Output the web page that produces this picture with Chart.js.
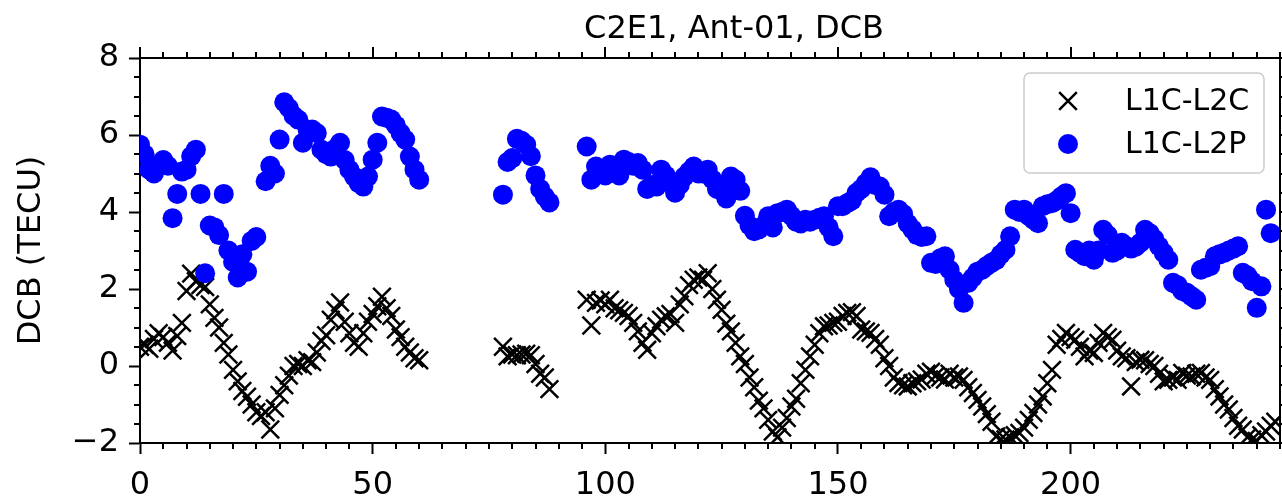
<!DOCTYPE html>
<html>
<head>
<meta charset="utf-8">
<script src="https://cdn.jsdelivr.net/npm/chart.js@4.4.1/dist/chart.umd.min.js"></script>
<style>
  html, body { margin: 0; padding: 0; background: #fff; }
  #wrap { width: 1282px; height: 498px; }
</style>
</head>
<body>
<div id="wrap"><canvas id="dcbChart" width="1282" height="498"></canvas></div>
<script>
// values (one sample per epoch)
const titleText = 'C2E1, Ant-01, DCB';
const seriesNames = ['L1C-L2C', 'L1C-L2P'];
const segStart = [0, 78, 96]; // first epoch of each arc

const l2cA = [0.50, 0.55, 0.45, 0.70, 0.85, 0.75, 0.60, 0.40, 0.78, 1.12,
  1.95, 2.40, 2.20, 2.10, 2.05, 1.60, 1.25, 1.00, 0.60, 0.30,
  -0.10, -0.40, -0.65, -0.80, -1.00, -1.20, -1.30, -1.20, -1.65, -1.10,
  -0.75, -0.50, -0.25, 0.00, 0.05, 0.00, 0.15, 0.10, 0.35, 0.65,
  0.80, 1.20, 1.45, 1.65, 1.15, 0.85, 0.60, 0.50, 0.85, 1.15,
  1.35, 1.55, 1.80, 1.50, 1.30, 0.95, 0.75, 0.50, 0.35, 0.20, 0.15];
const l2pA = [5.75, 5.50, 5.10, 5.00, 5.20, 5.35, 5.20, 3.84, 4.47, 5.05,
  5.10, 5.45, 5.62, 4.47, 2.41, 3.65, 3.60, 3.40, 4.47, 3.00,
  2.70, 2.30, 2.90, 2.45, 3.25, 3.35, null, 4.80, 5.20, 5.00,
  5.88, 6.85, 6.70, 6.50, 6.40, 5.80, 6.14, 6.14, 6.05, 5.62,
  5.50, 5.44, 5.65, 5.80, 5.35, 5.10, 4.92, 4.75, 4.66, 4.92,
  5.36, 5.80, 6.48, 6.45, 6.40, 6.25, 6.05, 5.88, 5.44, 5.10, 4.84];

const l2cB = [0.50, 0.25, 0.30, 0.28, 0.30, 0.32, 0.28, 0.05, -0.20, -0.30, -0.60];
const l2pB = [4.45, 5.30, 5.40, 5.90, 5.85, 5.75, 5.45, 4.95, 4.60, 4.40, 4.25];

const l2cC = [1.72, 1.05, 1.64, 1.70, 1.60, 1.72, 1.50, 1.45, 1.38, 1.30,
  1.12, 0.90, 0.60, 0.42, 0.85, 1.03, 1.20, 1.29, 1.35, 1.12,
  1.60, 1.81, 2.10, 2.24, 2.30, 2.24, 2.41, 2.00, 1.72, 1.46,
  1.10, 0.90, 0.60, 0.25, 0.05, -0.30, -0.55, -0.90, -1.10, -1.40,
  -1.70, -1.85, -1.60, -1.35, -1.05, -0.85, -0.45, -0.10, 0.25, 0.55,
  0.85, 1.03, 1.05, 1.12, 1.15, 1.30, 1.38, 1.40, 1.30, 0.95,
  0.90, 0.86, 0.70, 0.55, 0.20, 0.00, -0.30, -0.44, -0.50, -0.53,
  -0.45, -0.40, -0.35, -0.20, -0.15, -0.25, -0.30, -0.35, -0.20, -0.30,
  -0.27, -0.36, -0.55, -0.70, -0.88, -1.05, -1.25, -1.45, -1.83, -1.90,
  -1.91, -1.85, -1.80, -1.74, -1.60, -1.40, -1.22, -1.00, -0.79, -0.45,
  -0.10, 0.55, 0.70, 0.86, 0.75, 0.68, 0.50, 0.25, 0.40, 0.34,
  0.60, 0.86, 0.75, 0.68, 0.40, 0.25, 0.20, -0.53, 0.10, 0.16,
  0.15, 0.05, 0.00, -0.20, -0.40, -0.36, -0.30, -0.36, -0.18, -0.25,
  -0.27, -0.20, -0.18, -0.30, -0.36, -0.60, -0.79, -1.00, -1.13, -1.35,
  -1.55, -1.65, -1.85, -1.91, -1.95, -1.80, -1.70, -1.55, -1.45];
const l2pC = [5.70, 4.84, 5.18, 5.10, 4.95, 5.23, 5.10, 4.95, 5.36, 5.30,
  5.20, 5.27, 5.10, 4.60, 4.70, 4.66, 5.10, 4.95, 4.75, 4.50,
  4.70, 4.92, 5.05, 5.18, 5.00, 5.00, 5.10, 4.85, 4.60, 4.55,
  4.35, 4.92, 4.84, 4.55, 3.90, 3.65, 3.50, 3.55, 3.65, 3.89,
  3.60, 3.97, 4.00, 4.06, 3.90, 3.75, 3.70, 3.80, 3.75, 3.80,
  3.85, 3.89, 3.60, 3.37, 4.15, 4.15, 4.23, 4.30, 4.50, 4.60,
  4.75, 4.90, 4.70, 4.66, 4.45, 3.89, 4.00, 4.06, 3.95, 3.70,
  3.55, 3.40, 3.35, 3.37, 2.68, 2.65, 2.80, 2.85, 2.50, 2.24,
  2.00, 1.64, 2.16, 2.30, 2.45, 2.50, 2.60, 2.68, 2.75, 2.90,
  3.02, 3.37, 4.06, 4.00, 4.06, 3.90, 3.80, 3.71, 4.15, 4.20,
  4.23, 4.30, 4.40, 4.49, 3.97, 3.02, 2.94, 2.85, 3.00, 2.76,
  3.00, 3.54, 3.40, 2.94, 3.00, 3.20, 3.11, 3.05, 3.10, 3.20,
  3.54, 3.45, 3.30, 3.11, 2.94, 2.76, 2.16, 2.10, 1.95, 1.90,
  1.81, 1.72, 2.50, 2.55, 2.59, 2.85, 2.90, 2.94, 3.00, 3.05,
  3.11, 2.42, 2.35, 2.20, 1.51, 2.07, 4.06, 3.45, null];

const xTicks = [0, 50, 100, 150, 200];
const yTicks = [-2, 0, 2, 4, 6, 8];
const xRange = [0, 245];
const yRange = [-2, 8];
const xMinorStep = 5;
const yMinorStep = 0.5;

const FONT = 'DejaVu Sans';

// turn the arcs into {x, y} points, dropping missing epochs
const toPoints = (arcs) => arcs.flatMap((ys, s) =>
  ys.map((y, i) => ({ x: segStart[s] + i, y: y })).filter(p => p.y !== null));

// title above the axes (sits a little right of centre in the original)
const plotTitle = {
  id: 'plotTitle',
  afterDraw(chart) {
    const { ctx, chartArea: a } = chart;
    ctx.save();
    ctx.fillStyle = '#000';
    ctx.font = '32px "' + FONT + '"';
    ctx.textAlign = 'center';
    ctx.textBaseline = 'middle';
    ctx.fillText(titleText, (a.left + a.right) / 2 + 24, 30);
    ctx.restore();
  }
};

// top/right spines plus minor and mirrored ticks (matplotlib style)
const frameTicks = {
  id: 'frameTicks',
  afterDraw(chart) {
    const { ctx, chartArea: a, scales: { x, y } } = chart;
    ctx.save();
    ctx.strokeStyle = '#000';
    ctx.lineWidth = 2;
    ctx.beginPath();
    ctx.moveTo(a.left - 1, a.top);
    ctx.lineTo(a.right, a.top);
    ctx.lineTo(a.right, a.bottom + 1);
    for (let v = xRange[0]; v <= xRange[1]; v += xMinorStep) {
      const px = Math.round(x.getPixelForValue(v));
      const major = xTicks.includes(v);
      const len = major ? 11 : 6;
      ctx.moveTo(px, a.top);
      ctx.lineTo(px, a.top - len);
      if (!major) {
        ctx.moveTo(px, a.bottom);
        ctx.lineTo(px, a.bottom + len);
      }
    }
    for (let v = yRange[0]; v <= yRange[1]; v += yMinorStep) {
      const py = Math.round(y.getPixelForValue(v));
      const major = yTicks.includes(v);
      const len = major ? 11 : 6;
      ctx.moveTo(a.right, py);
      ctx.lineTo(a.right + len, py);
      if (!major) {
        ctx.moveTo(a.left, py);
        ctx.lineTo(a.left - len, py);
      }
    }
    ctx.stroke();
    ctx.restore();
  }
};

// framed legend inside the upper right corner
const boxLegend = {
  id: 'boxLegend',
  afterDraw(chart) {
    const { ctx, chartArea: a } = chart;
    const bw = 240, bh = 100;
    const bx = a.right - 16 - bw, by = a.top + 15;
    ctx.save();
    ctx.fillStyle = 'rgba(255,255,255,0.8)';
    ctx.strokeStyle = '#cccccc';
    ctx.lineWidth = 1.5;
    ctx.beginPath();
    ctx.roundRect(bx, by, bw, bh, 6);
    ctx.fill();
    ctx.stroke();

    const rows = [1, 0]; // dataset index for each legend row
    rows.forEach((di, k) => {
      const ds = chart.data.datasets[di];
      const cy = by + 28 + k * 43;
      const cx = bx + 44;
      ctx.fillStyle = ds.backgroundColor;
      ctx.strokeStyle = ds.borderColor;
      ctx.lineWidth = ds.borderWidth;
      Chart.helpers.drawPoint(ctx, {
        pointStyle: ds.pointStyle,
        radius: ds.pointRadius,
        rotation: 0,
        borderWidth: ds.borderWidth
      }, cx, cy);
      ctx.fillStyle = '#000';
      ctx.font = '30px "' + FONT + '"';
      ctx.textAlign = 'left';
      ctx.textBaseline = 'middle';
      ctx.fillText(ds.label, bx + 101, cy + 1);
    });
    ctx.restore();
  }
};

const ctx = document.getElementById('dcbChart').getContext('2d');
new Chart(ctx, {
  type: 'scatter',
  data: {
    datasets: [
      {
        label: seriesNames[1],
        data: toPoints([l2pA, l2pB, l2pC]),
        pointStyle: 'circle',
        pointRadius: 10,
        backgroundColor: '#0000ff',
        borderColor: '#0000ff',
        borderWidth: 0,
        clip: 0,
        order: 0
      },
      {
        label: seriesNames[0],
        data: toPoints([l2cA, l2cB, l2cC]),
        pointStyle: 'crossRot',
        pointRadius: 12.5,
        backgroundColor: '#000000',
        borderColor: '#000000',
        borderWidth: 2.5,
        clip: 0,
        order: 1
      }
    ]
  },
  options: {
    responsive: false,
    animation: false,
    devicePixelRatio: 1,
    events: [],
    layout: { autoPadding: false, padding: { top: 58, right: 2, left: 0, bottom: 0 } },
    plugins: {
      legend: { display: false },
      tooltip: { enabled: false },
      title: { display: false }
    },
    scales: {
      x: {
        type: 'linear',
        min: xRange[0],
        max: xRange[1],
        afterBuildTicks: (s) => { s.ticks = xTicks.map(v => ({ value: v })); },
        afterFit: (s) => { s.height = 55; s.paddingLeft = 0; s.paddingRight = 0; },
        ticks: {
          color: '#000',
          font: { family: FONT, size: 32 },
          padding: 12,
          maxRotation: 0
        },
        grid: {
          drawOnChartArea: false,
          drawTicks: true,
          tickLength: 11,
          tickWidth: 2,
          tickColor: '#000'
        },
        border: { display: true, color: '#000', width: 2 }
      },
      y: {
        type: 'linear',
        min: yRange[0],
        max: yRange[1],
        afterBuildTicks: (s) => { s.ticks = yTicks.map(v => ({ value: v })); },
        afterFit: (s) => { s.width = 140; s.paddingTop = 0; s.paddingBottom = 0; },
        ticks: {
          color: '#000',
          font: { family: FONT, size: 32 },
          padding: 10,
          callback: (v) => v < 0 ? '\u2212' + Math.abs(v) : String(v)
        },
        grid: {
          drawOnChartArea: false,
          drawTicks: true,
          tickLength: 11,
          tickWidth: 2,
          tickColor: '#000'
        },
        border: { display: true, color: '#000', width: 2 },
        title: {
          display: true,
          text: 'DCB (TECU)',
          color: '#000',
          font: { family: FONT, size: 32 },
          padding: { top: 12, bottom: 0 }
        }
      }
    }
  },
  plugins: [frameTicks, boxLegend, plotTitle]
});
</script>
</body>
</html>
